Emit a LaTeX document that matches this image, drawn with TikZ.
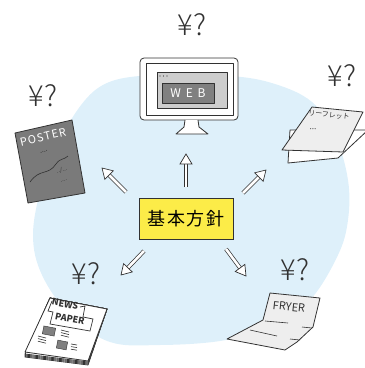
\documentclass[tikz,border=0pt]{standalone}
\usepackage{fontspec}
\newfontfamily\jpfont{Noto Sans CJK JP}
\newfontfamily\thinfont{Noto Sans CJK JP}[UprightFont=* Light]
\usetikzlibrary{calc}

\definecolor{blob}{RGB}{222,240,250}
\definecolor{memo}{RGB}{252,236,72}
\definecolor{ink}{RGB}{50,50,50}
\definecolor{paper}{RGB}{238,238,238}
\definecolor{postergray}{RGB}{122,122,122}
\definecolor{screengray}{RGB}{205,205,205}
\definecolor{webgray}{RGB}{128,128,128}

\tikzset{
  outline/.style={draw=ink, line width=0.8pt, line join=round},
  price/.style={font=\thinfont\fontsize{29}{29}\selectfont, text=ink, inner sep=0pt},
  hand/.style={font=\jpfont\fontsize{#1}{#1}\selectfont, inner sep=0pt},
  shaft/.style={draw=ink, line width=0.7pt, double=white, double distance=2.6pt,
                shorten >=7pt},
  head/.style={draw=ink, line width=0.7pt, fill=white, line join=miter},
}

% hollow arrow: double shaft plus an open triangle head
\newcommand{\hollowarrow}[2]{%
  \draw[shaft] (#1) -- (#2);
  \draw[head] (#2) -- ($(#2)!10pt!(#1)!6pt!90:(#1)$) -- ($(#2)!10pt!(#1)!6pt!-90:(#1)$) -- cycle;
}

\begin{document}
\begin{tikzpicture}[x=1pt,y=-1pt]
  \useasboundingbox (0,0) rectangle (365,368);

  % pale blue area behind everything
  \fill[blob] plot[smooth cycle, tension=0.6] coordinates {
    (150,75) (230,76) (275,84) (312,102) (335,135) (348,180) (348,220)
    (338,255) (310,300) (270,328) (220,341) (160,345) (110,342) (70,315)
    (42,275) (33,235) (42,185) (62,135) (98,88)};

  % monitor
  \draw[outline, fill=white, rounded corners=4pt] (140,58) rectangle (238,120);
  \draw[outline, fill=white] (146,63) rectangle (233,115);
  \draw[outline, fill=screengray] (157,72) rectangle (227,108);
  \foreach \d in {160,163.5,167} \fill[ink] (\d,76) circle (0.7);
  \node[outline, fill=webgray, minimum width=52pt, minimum height=20pt,
        text=white, hand=12, inner sep=0pt] (web) at (188,93)
        {\addfontfeatures{LetterSpace=40}WEB};
  \draw[outline, fill=white] (185,120) -- (184,127) -- (176,134) -- (208,134)
        -- (199,127) -- (198,120);
  \node[price] (p1) at (192,25) {¥?};

  % poster
  \draw[outline, fill=postergray] (15,133) -- (72,120) -- (85,193) -- (28,203) -- cycle;
  \node[hand=11, text=white, rotate=13] (poster) at (43,137) {\addfontfeatures{LetterSpace=10}POSTER};
  \node[hand=7, text=ink, rotate=13] (pd1) at (44,152) {....};
  \draw[ink, line width=0.6pt] (30,182) .. controls (40,168) and (48,176) .. (56,164)
        .. controls (60,158) and (64,160) .. (68,156);
  \node[hand=6, text=ink, rotate=13] (pd2) at (62,170) {../...};
  \node[hand=6, text=ink, rotate=13] (pd3) at (64,181) {....};
  \node[price] (p2) at (43,96) {¥?};

  % leaflet, two sheets
  \draw[outline, fill=white] (290,130) -- (368,130) -- (338,158) -- (288,163) -- cycle;
  \draw[outline, fill=paper] (312,107) -- (363,112) -- (343,152) -- (282,150) -- cycle;
  \node[hand=7, text=ink, rotate=-6] (leaflet) at (329,115) {リーフレット};
  \node[hand=8, text=ink, rotate=-6] (ld) at (313,129) {...};
  \node[price] (p3) at (342,76) {¥?};

  % newspaper
  \foreach \s in {8,6,4,2}
    \draw[outline, fill=white] (25,353+\s*0.5) -- (50,298) -- (107,309) -- (88,361+\s*0.5) -- cycle;
  \draw[outline, fill=white] (50,298) -- (107,309) -- (88,361) -- (25,352) -- cycle;
  \node[text=ink, rotate=-11, inner sep=0pt, font=\jpfont\bfseries\fontsize{9}{9}\selectfont] (news) at (65,304) {NEWS};
  \node[text=ink, rotate=-11, inner sep=0pt, font=\jpfont\bfseries\fontsize{9}{9}\selectfont] (paper) at (70,319) {PAPER};
  \draw[ink, line width=0.7pt] (52,301) -- (48,311) -- (53,312) -- (50,324) -- (90,331)
        -- (93,319) -- (83,317) -- (85,306) -- (80,307);
  \fill[webgray, draw=ink, rotate around={-11:(49,331)}] (43,327) rectangle (55,335);
  \fill[webgray, draw=ink, rotate around={-11:(62,345)}] (57,341) rectangle (67,349);
  \foreach \dy in {0,2.6,5.2} {
    \draw[ink, line width=0.6pt] (61,330+\dy) -- (69,332+\dy);
    \draw[ink, line width=0.6pt] (38,336+\dy) -- (46,338+\dy);
    \draw[ink, line width=0.6pt] (71,344+\dy) -- (77,345+\dy);
  }
  \node[price] (p4) at (86,274) {¥?};

  % flyer
  \draw[outline, fill=paper] (270,293) -- (320,298) -- (313,327) -- (297,342)
        -- (285,350) -- (227,339) -- (263,320) -- cycle;
  \draw[ink, line width=0.6pt] (265,321) -- (288,323) (302,327) -- (312,328)
        (250,330) -- (277,336) (290,339) -- (300,340);
  \node[hand=11, text=ink, rotate=-6] (flyer) at (289,307) {FRYER};
  \node[price] (p5) at (295,270) {¥?};

  % the policy card in the middle
  \node[draw=ink, line width=0.8pt, fill=memo, minimum width=94pt, minimum height=41pt,
        font=\jpfont\fontsize{18}{18}\selectfont] (policy) at (186,218.5)
        {\addfontfeatures{LetterSpace=8}基本方針};

  % arrows out of the card
  \coordinate (up1) at (186,187);   \coordinate (up2) at (186,154);
  \coordinate (ul1) at (126,192);   \coordinate (ul2) at (102,168);
  \coordinate (ur1) at (243,193);   \coordinate (ur2) at (266,170);
  \coordinate (dl1) at (144,251);   \coordinate (dl2) at (121,275);
  \coordinate (dr1) at (226,249);   \coordinate (dr2) at (246,276);
  \foreach \a/\b in {up1/up2, ul1/ul2, ur1/ur2, dl1/dl2, dr1/dr2}{
    \hollowarrow{\a}{\b}
  }
\end{tikzpicture}
\end{document}
